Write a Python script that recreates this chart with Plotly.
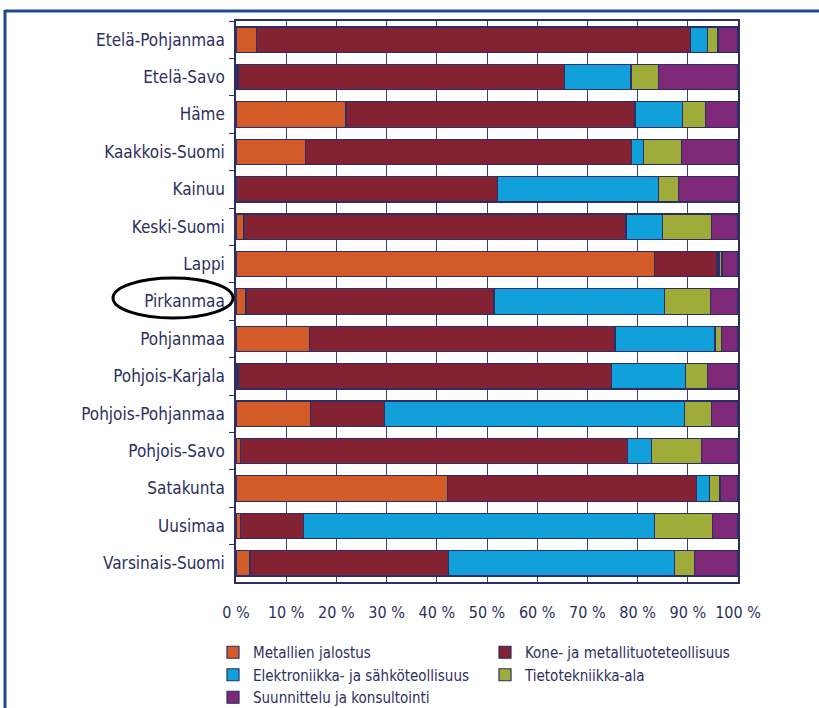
import plotly.graph_objects as go

regions = ["Etelä-Pohjanmaa", "Etelä-Savo", "Häme", "Kaakkois-Suomi", "Kainuu",
           "Keski-Suomi", "Lappi", "Pirkanmaa", "Pohjanmaa", "Pohjois-Karjala",
           "Pohjois-Pohjanmaa", "Pohjois-Savo", "Satakunta", "Uusimaa", "Varsinais-Suomi"]

metallien_jalostus = [4.1, 0.4, 21.9, 13.9, 0.0, 1.6, 83.4, 2.0, 14.7, 0.4, 14.9, 0.9, 42.2, 0.9, 2.8]
kone_metalli = [86.5, 65.0, 57.6, 64.9, 52.1, 76.1, 12.4, 49.4, 60.8, 74.4, 14.7, 77.1, 49.6, 12.5, 39.5]
elektroniikka = [3.3, 13.3, 9.4, 2.3, 32.1, 7.2, 0.4, 33.9, 19.9, 14.8, 59.7, 4.7, 2.5, 70.0, 45.1]
tietotekniikka = [2.1, 5.5, 4.6, 7.7, 3.9, 9.8, 0.6, 9.3, 1.3, 4.3, 5.4, 10.1, 2.1, 11.5, 4.0]
suunnittelu = [4.0, 15.8, 6.5, 11.2, 11.9, 5.3, 3.2, 5.4, 3.3, 6.1, 5.3, 7.2, 3.6, 5.1, 8.6]

series_names = ["Metallien jalostus", "Kone- ja metallituoteteollisuus",
                "Elektroniikka- ja sähköteollisuus", "Tietotekniikka-ala",
                "Suunnittelu ja konsultointi"]
series_values = [metallien_jalostus, kone_metalli, elektroniikka, tietotekniikka, suunnittelu]
colors = ["#D35B27", "#822233", "#12A0DB", "#A0AC3A", "#7E2878"]
legend_column = ["legend", "legend2", "legend", "legend2", "legend"]

tick_vals = [0, 10, 20, 30, 40, 50, 60, 70, 80, 90, 100]
tick_text = ["0 %", "10 %", "20 %", "30 %", "40 %", "50 %", "60 %", "70 %", "80 %", "90 %", "100 %"]

NAVY = "#2B2F66"
TEXT = "#2D2F5E"
FONT = "DejaVu Sans Condensed, Liberation Sans Narrow, sans-serif"

fig = go.Figure()
for name, vals, col, lg in zip(series_names, series_values, colors, legend_column):
    fig.add_trace(go.Bar(
        y=regions, x=vals, name=name, orientation="h", legend=lg,
        marker=dict(color=col, line=dict(color=NAVY, width=1.2)),
    ))

W, H = 819, 708
L, R, T, B = 236, 81, 21, 126
pw, ph = W - L - R, H - T - B

def px_x(px):
    return (px - L) / pw

def px_y(py):
    return (H - B - py) / ph

shapes = [
    # outer decorative frame (top + left)
    dict(type="line", xref="paper", yref="paper", x0=px_x(5), x1=px_x(830),
         y0=px_y(11), y1=px_y(11), line=dict(color="#1D4C8C", width=3)),
    dict(type="line", xref="paper", yref="paper", x0=px_x(5), x1=px_x(5),
         y0=px_y(10), y1=px_y(720), line=dict(color="#1D4C8C", width=3)),
    # ellipse highlighting Pirkanmaa
    dict(type="circle", xref="paper", yref="paper", x0=px_x(113), x1=px_x(233),
         y0=px_y(318), y1=px_y(278), line=dict(color="black", width=3)),
]

legend_style = dict(orientation="v", xanchor="left", yanchor="top", traceorder="normal",
                    itemwidth=30, font=dict(size=15, color=TEXT, family=FONT),
                    bgcolor="rgba(0,0,0,0)", tracegroupgap=0)

fig.update_layout(
    width=W, height=H,
    margin=dict(l=L, r=R, t=T, b=B, pad=0, autoexpand=False),
    barmode="stack", bargap=0.32,
    paper_bgcolor="white", plot_bgcolor="white",
    font=dict(family=FONT, size=16, color=TEXT),
    shapes=shapes,
    showlegend=True,
    legend=dict(x=px_x(213), y=px_y(636), **legend_style),
    legend2=dict(x=px_x(485), y=px_y(636), **legend_style),
    xaxis=dict(range=[0, 100], tickvals=tick_vals, ticktext=tick_text,
               showgrid=True, gridcolor="#3A3E72", gridwidth=1,
               showline=True, linecolor=NAVY, linewidth=1.5, mirror=True,
               ticks="", ticklabelstandoff=15, zeroline=False,
               tickfont=dict(size=16, color=TEXT, family=FONT), fixedrange=True),
    yaxis=dict(autorange="reversed", showline=True, linecolor=NAVY, linewidth=1.5,
               mirror=True, ticks="outside", tickson="boundaries", ticklen=5,
               tickcolor=NAVY, showgrid=False, ticklabelstandoff=6,
               tickfont=dict(size=17, color=TEXT, family=FONT), fixedrange=True),
)

fig.write_html("out.html", config={"displayModeBar": False},
               post_script="document.body.style.margin='0';")
